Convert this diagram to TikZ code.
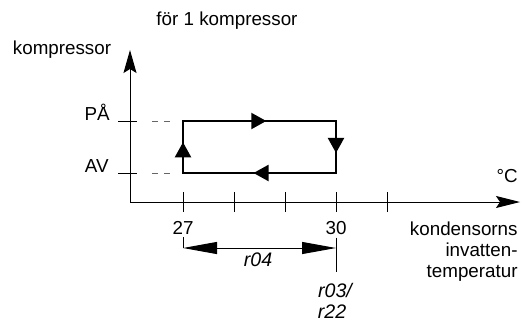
\documentclass[tikz,border=0pt]{standalone}
\usepackage{fontspec}
\setmainfont{Liberation Sans}
\usetikzlibrary{arrows.meta, decorations.markings}

\tikzset{
  lbl/.style={font=\fontsize{9.4}{10.6}\selectfont, inner sep=0pt},
  code/.style={font=\fontsize{9.8}{11}\selectfont\itshape, inner sep=0pt},
  axis/.style={line width=0.5pt},
  loopline/.style={line width=1pt, line join=miter},
  looptip/.tip={Triangle[length=7.5pt,width=8pt]},
  loopmarks/.style={postaction={decorate, decoration={markings,
    mark=at position 0.075 with {\arrow{looptip}},
    mark=at position 0.33 with {\arrow{looptip}},
    mark=at position 0.578 with {\arrow{looptip}},
    mark=at position 0.828 with {\arrow{looptip}}}}},
  level/.style={dash pattern=on 3pt off 3pt, line width=0.5pt, black!60}
}

\begin{document}
\begin{tikzpicture}[x=0.5pt, y=-0.5pt]
\useasboundingbox (0,0) rectangle (528,322);
% texts
\node[lbl] (title) at (227,21) {för 1 kompressor};
\node[lbl] (ylabel) at (62,50) {kompressor};
\node[lbl, anchor=base east] (on) at (110,120) {PÅ};
\node[lbl, anchor=base east] (off) at (109,172) {AV};
\node[lbl, anchor=base east] (unit) at (518,182) {°C};
\node[lbl, anchor=base] (n27) at (183,234) {27};
\node[lbl, anchor=base] (n30) at (336,234) {30};
\node[lbl, anchor=north east, align=right] (xlabel) at (518,221) {kondensorns\\invatten-\\temperatur};
\node[code] (r04) at (258,260) {r04};
\node[code] (r03) at (335,290) {r03/};
\node[code] (r22) at (332,312) {r22};
% axes
\coordinate (origin) at (130,202);
\coordinate (ytop) at (130,50);
\coordinate (xend) at (520,202);
\draw[axis, -{Stealth[length=11.5pt,width=6.5pt,inset=2pt]}] (origin) -- (ytop);
\draw[axis, -{Stealth[length=12pt,width=6pt,inset=2pt]}] (origin) -- (xend);
\foreach \x in {183,234,285,336,387}
  \draw[axis] (\x,192) -- (\x,212);
\draw[axis] (118,121) -- (137,121);
\draw[axis] (118,173) -- (137,173);
\draw[level] (152,121) -- (172,121);
\draw[level] (152,173) -- (172,173);
% switching loop
\coordinate (off27) at (183,173);
\coordinate (on27) at (183,121);
\coordinate (on30) at (336,121);
\coordinate (off30) at (336,173);
\draw[loopline, loopmarks] (off27) -- (on27) -- (on30) -- (off30) -- cycle;
% differential
\coordinate (d27) at (183,248);
\coordinate (d30) at (336,248);
\draw[axis] ([yshift=-1.5pt]n27.south) -- (d27);
\draw[axis] ([yshift=-1.5pt]n30.south) -- (336,272);
\draw[axis, {Triangle[length=17pt,width=6pt]}-{Triangle[length=17pt,width=6pt]}] (d27) -- (d30);
\end{tikzpicture}
\end{document}
